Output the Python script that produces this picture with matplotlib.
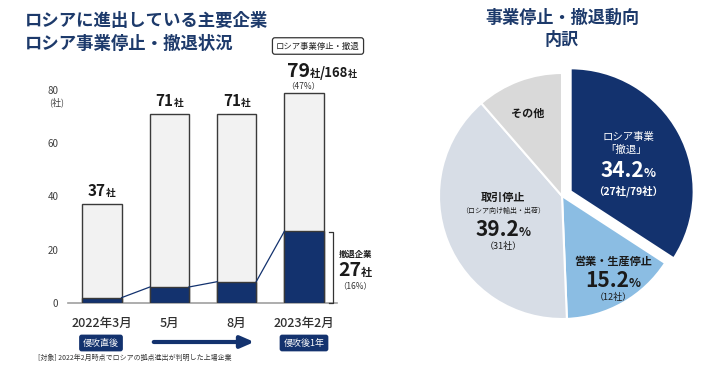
import matplotlib
matplotlib.use('Agg')
import matplotlib.pyplot as plt

plt.rcParams['font.family'] = ['Noto Sans CJK JP', 'DejaVu Sans']

# bar chart data
months = ['2022年3月', '5月', '8月', '2023年2月']
totals = [37, 71, 71, 79]
exits = [2, 6, 8, 27]
total_labels = ['37', '71', '71', '79']

# pie data
pie_names = ['撤退', '営業・生産停止', '取引停止', 'その他']
pie_counts = [27, 12, 31, 9]
pie_pcts = ['34.2', '15.2', '39.2', '']

NAVY = '#13326e'
TITLE = '#1d3a6b'
LIGHT = '#f2f2f2'
EDGE = '#3a3a3a'
pie_colors = [NAVY, '#8bbde3', '#d7dde6', '#d9d9d9']

W, H = 708, 368
fig = plt.figure(figsize=(W / 100, H / 100), dpi=100)

# overlay in pixel coords for annotations
ov = fig.add_axes([0, 0, 1, 1], zorder=5)
ov.set_xlim(0, W)
ov.set_ylim(H, 0)
ov.axis('off')
ov.patch.set_alpha(0)

renderer = fig.canvas.get_renderer()


def rich(x, y, parts, ha='center'):
    # parts: (text, size, color)
    texts, widths = [], []
    for s, size, color in parts:
        t = ov.text(0, y, s, fontsize=size, color=color, fontweight='bold',
                    va='baseline', ha='left')
        widths.append(t.get_window_extent(renderer).width)
        texts.append(t)
    total = sum(widths)
    start = x - total / 2 if ha == 'center' else x
    for t, w in zip(texts, widths):
        t.set_x(start)
        start += w


# --- bar chart ---
ax = fig.add_axes([68 / W, (H - 303) / H, (337 - 68) / W, (303 - 90) / H])
pos = list(range(len(months)))
ax.bar(pos, totals, width=0.58, color=LIGHT, edgecolor=EDGE, linewidth=1.0, zorder=2)
ax.bar(pos, exits, width=0.58, color=NAVY, edgecolor=EDGE, linewidth=1.0, zorder=3)
for i in range(len(pos) - 1):
    ax.plot([pos[i] + 0.29, pos[i + 1] - 0.29], [exits[i], exits[i + 1]],
            color=NAVY, lw=0.9, zorder=4)
ax.set_xlim(-0.505, 3.49)
ax.set_ylim(0, 80)
ax.set_yticks([0, 20, 40, 60, 80])
ax.set_yticklabels(['0', '20', '40', '60', '80'], fontsize=7, color='#404040')
ax.set_xticks(pos)
ax.set_xticklabels(months, fontsize=9, color='#303030', fontweight='medium')
ax.tick_params(length=0, pad=10)
ax.tick_params(axis='y', pad=7)
for s in ['top', 'right', 'left']:
    ax.spines[s].set_visible(False)
ax.spines['bottom'].set_color('#a0a0a0')
ax.spines['bottom'].set_linewidth(1.2)
ax.patch.set_alpha(0)

# labels above first three bars
for i in range(3):
    px, py = ax.transData.transform((pos[i], totals[i]))
    rich(px, H - py - 8, [(total_labels[i], 11, '#1a1a1a'), ('社', 7, '#1a1a1a')])

ov.text(57, 102, '(社)', fontsize=6.5, color='#404040', ha='center', va='center')

# titles
ov.text(25, 21, 'ロシアに進出している主要企業', fontsize=12.5, fontweight='bold',
        color=TITLE, va='center', ha='left')
ov.text(25, 44, 'ロシア事業停止・撤退状況', fontsize=12.5, fontweight='bold',
        color=TITLE, va='center', ha='left')

# box label above last bar
ov.text(318, 46, 'ロシア事業停止・撤退', fontsize=6, color='#222222', ha='center', va='center',
        bbox=dict(boxstyle='round,pad=0.45,rounding_size=0.3', fc='white', ec='#333333', lw=0.9))
rich(322, 77, [(total_labels[3], 14, '#1a1a1a'), ('社', 7.5, '#1a1a1a'), ('/168', 9.5, '#1a1a1a'),
               ('社', 6.5, '#1a1a1a')])
ov.text(303, 86, '（47%）', fontsize=6, color='#333333', ha='center', va='center')

# bracket and exit label
bx0 = 329
ov.plot([bx0, 333, 333, bx0], [232, 232, 303, 303], color='#333333', lw=0.9)
ov.text(356, 254, '撤退企業', fontsize=6, color='#1a1a1a', fontweight='bold', ha='center', va='center')
rich(355, 276, [('27', 14, '#1a1a1a'), ('社', 8, '#1a1a1a')])
ov.text(355, 286, '（16%）', fontsize=6, color='#333333', ha='center', va='center')

# badges and arrow
badge = dict(boxstyle='round,pad=0.35,rounding_size=0.2', fc=NAVY, ec=NAVY)
ov.text(101, 343, '侵攻直後', fontsize=6.5, color='white', ha='center', va='center', bbox=badge)
ov.text(304, 343, '侵攻後1年', fontsize=6.5, color='white', ha='center', va='center', bbox=badge)
ov.annotate('', xy=(257, 342), xytext=(151, 342),
            arrowprops=dict(arrowstyle='-|>,head_length=0.8,head_width=0.35', color=NAVY, lw=3))

ov.text(38, 358, '[対象] 2022年2月時点でロシアの拠点進出が判明した上場企業', fontsize=5,
        color='#333333', ha='left', va='center')

# --- pie chart ---
cx, cy, r = 562, 196, 123
side = 2.2 * r
pa = fig.add_axes([(cx - side / 2) / W, (H - cy - side / 2) / H, side / W, side / H])
pa.pie(pie_counts, colors=pie_colors, startangle=90, counterclock=False,
       explode=[0.08, 0, 0, 0], radius=1.0,
       wedgeprops=dict(edgecolor='white', linewidth=1.5))
pa.set_xlim(-1.1, 1.1)
pa.set_ylim(-1.1, 1.1)
pa.set_aspect('equal')

ov.text(562, 18, '事業停止・撤退動向', fontsize=12.3, fontweight='bold', color=TITLE,
        ha='center', va='center')
ov.text(562, 40, '内訳', fontsize=12.3, fontweight='bold', color=TITLE, ha='center', va='center')

# slice labels
ov.text(628, 137, 'ロシア事業', fontsize=7.5, color='white', ha='center', va='center')
ov.text(626, 150, '「撤退」', fontsize=7.5, color='white', ha='center', va='center')
rich(628, 177, [(pie_pcts[0], 15, 'white'), ('%', 9, 'white')])
ov.text(628, 191, '（27社/79社）', fontsize=7.5, color='white', fontweight='bold',
        ha='center', va='center')

ov.text(613, 261, '営業・生産停止', fontsize=8, color='#1a1a1a', fontweight='bold',
        ha='center', va='center')
rich(613, 287, [(pie_pcts[1], 15, '#1a1a1a'), ('%', 9, '#1a1a1a')])
ov.text(613, 297, '（12社）', fontsize=6.5, color='#1a1a1a', ha='center', va='center')

ov.text(503, 197, '取引停止', fontsize=8, color='#1a1a1a', fontweight='bold',
        ha='center', va='center')
ov.text(503, 211, '（ロシア向け輸出・出荷）', fontsize=5, color='#1a1a1a', ha='center', va='center')
rich(503, 236, [(pie_pcts[2], 15, '#1a1a1a'), ('%', 9, '#1a1a1a')])
ov.text(503, 246, '（31社）', fontsize=6.5, color='#1a1a1a', ha='center', va='center')

ov.text(528, 113, 'その他', fontsize=8, color='#1a1a1a', fontweight='bold',
        ha='center', va='center')

fig.savefig('out.png', dpi=100)
